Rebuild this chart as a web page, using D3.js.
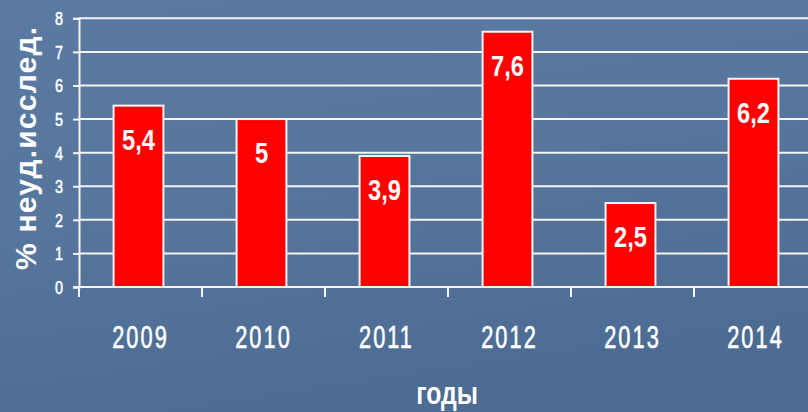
<!DOCTYPE html>
<html><head><meta charset="utf-8">
<script src="https://cdn.jsdelivr.net/npm/d3@7"></script>
<style>
html,body{margin:0;padding:0;background:#52729a;}
svg{display:block;}
text{font-family:"Liberation Sans",Arial,sans-serif;fill:#fff;}
</style></head>
<body>
<svg id="chart" width="808" height="412"></svg>
<script>
const categories = ["2009","2010","2011","2012","2013","2014"];
const values = [5.4, 5, 3.9, 7.6, 2.5, 6.2];
const valueLabels = ["5,4","5","3,9","7,6","2,5","6,2"];
const yTicks = [0,1,2,3,4,5,6,7,8];
const yTitle = "% неуд.исслед.";
const xTitle = "годы";

(function(){
const svg = d3.select("#chart");
const W = 808, H = 412;

// background
const defs = svg.append("defs");
const lg = defs.append("linearGradient").attr("id","bg").attr("x1",0).attr("y1",0).attr("x2",0.3).attr("y2",1);
lg.append("stop").attr("offset","0%").attr("stop-color","#5a7aa2");
lg.append("stop").attr("offset","50%").attr("stop-color","#56769d");
lg.append("stop").attr("offset","100%").attr("stop-color","#4d6c93");
svg.append("rect").attr("width",W).attr("height",H).attr("fill","url(#bg)");

const mLeft = 79, mRight = 817, mTop = 18.3, mBottom = 287;
const x = d3.scaleBand().domain(categories).range([mLeft, mRight]).padding(0);
const y = d3.scaleLinear().domain([0, 8]).range([mBottom, mTop]);

// gridlines
svg.append("g").selectAll("line").data(yTicks.filter(d => d > 0)).join("line")
  .attr("x1", mLeft).attr("x2", 808)
  .attr("y1", d => y(d)).attr("y2", d => y(d))
  .attr("stroke", "#f4f4f4").attr("stroke-width", 2);

// y axis
const yAxis = svg.append("g").attr("transform", `translate(${mLeft},0)`)
  .call(d3.axisLeft(y).tickValues(yTicks).tickSize(6).tickFormat(d3.format("d")));
yAxis.select(".domain").attr("stroke", "#f4f4f4").attr("stroke-width", 2);
yAxis.selectAll(".tick line").attr("stroke", "#f4f4f4").attr("stroke-width", 2);
yAxis.selectAll(".tick text")
  .attr("x", null).attr("dy", null)
  .attr("transform", "translate(-16,6.5) scale(0.8,1)")
  .attr("text-anchor", "end")
  .style("font-size", "18px").attr("fill", "#fff")
  .attr("stroke", "#fff").attr("stroke-width", 0.5);

// bars
const bw = x.bandwidth() * 0.405;
svg.append("g").selectAll("rect").data(values).join("rect")
  .attr("x", (d, i) => x(categories[i]) + x.bandwidth() / 2 - bw / 2 - 2)
  .attr("y", d => y(d))
  .attr("width", bw)
  .attr("height", d => y(0) - y(d))
  .attr("fill", "#ff0000")
  .attr("stroke", "#f4f4f4").attr("stroke-width", 2);

// value labels
svg.append("g").selectAll("text").data(values).join("text")
  .attr("transform", (d, i) => `translate(${x(categories[i]) + x.bandwidth() / 2 - 2},${y(d) + 44}) scale(0.79,1)`)
  .attr("text-anchor", "middle")
  .style("font-size", "30px").style("font-weight", "bold")
  .text((d, i) => valueLabels[i]);

// x axis
const xAxisG = svg.append("g");
xAxisG.append("line").attr("x1", mLeft - 6).attr("x2", 808).attr("y1", y(0)).attr("y2", y(0))
  .attr("stroke", "#f4f4f4").attr("stroke-width", 2);
const bounds = categories.map(c => x(c)).concat([x(categories[categories.length - 1]) + x.bandwidth()]);
xAxisG.selectAll("line.tk").data(bounds).join("line").attr("class", "tk")
  .attr("x1", d => d).attr("x2", d => d).attr("y1", y(0)).attr("y2", y(0) + 10)
  .attr("stroke", "#f4f4f4").attr("stroke-width", 2);
const xAx = svg.append("g").attr("transform", `translate(0,${y(0)})`)
  .call(d3.axisBottom(x).tickSize(0));
xAx.select(".domain").remove();
xAx.selectAll(".tick text")
  .attr("y", null).attr("dy", null)
  .attr("transform", "translate(0,61) scale(0.68,1)")
  .attr("text-anchor", "middle")
  .style("font-size", "32px").style("letter-spacing", "3px")
  .attr("fill", "#fff").attr("stroke", "#fff").attr("stroke-width", 0.6);

// axis titles
svg.append("text")
  .attr("transform", "translate(447,404) scale(0.8,1)")
  .attr("text-anchor", "middle")
  .style("font-size", "31px").style("font-weight", "bold")
  .text(xTitle);
svg.append("text")
  .attr("transform", "translate(36,148.5) rotate(-90)")
  .attr("text-anchor", "middle")
  .attr("textLength", 243).attr("lengthAdjust", "spacing")
  .style("font-size", "30px").style("font-weight", "bold")
  .text(yTitle);
})();
</script>
</body></html>
